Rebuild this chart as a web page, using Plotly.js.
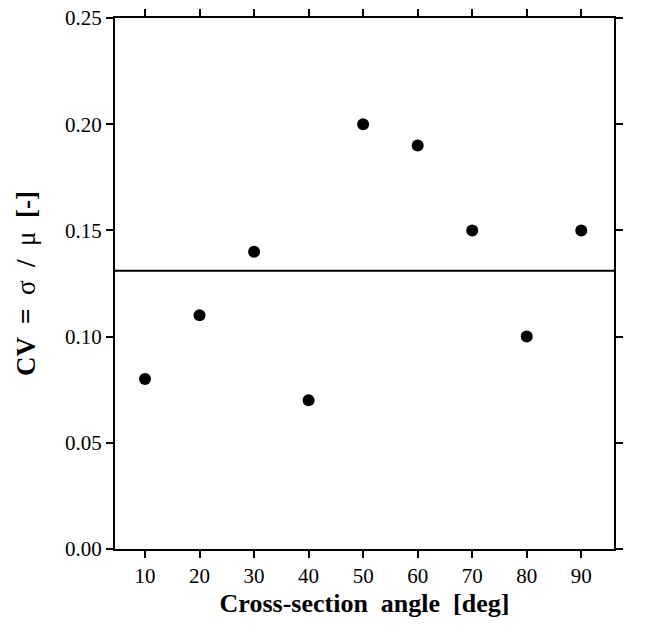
<!DOCTYPE html>
<html><head><meta charset="utf-8">
<script src="https://cdn.plot.ly/plotly-3.0.1.min.js"></script>
<style>body{margin:0;background:#fff}</style>
</head><body>
<div id="chart" style="width:651px;height:628px"></div>
<script>
const angles = [10, 20, 30, 40, 50, 60, 70, 80, 90];
const cv = [0.08, 0.11, 0.14, 0.07, 0.20, 0.19, 0.15, 0.10, 0.15];
const meanX = [4.5, 96];
const meanY = [0.131, 0.131];
const yTicks = [0, 0.05, 0.10, 0.15, 0.20, 0.25];
const yTickText = ['0.00', '0.05', '0.10', '0.15', '0.20', '0.25'];

const fam = 'Liberation Serif, Times New Roman, serif';
const f = s => ({family: fam, size: s, color: '#000'});
Plotly.newPlot('chart', [
  {x: meanX, y: meanY, mode: 'lines', line: {color: '#000', width: 2}, hoverinfo: 'skip'},
  {x: angles, y: cv, mode: 'markers', marker: {color: '#000', size: 12}}
], {
  width: 651, height: 628,
  margin: {l: 115, r: 37, t: 18, b: 79},
  showlegend: false,
  paper_bgcolor: '#fff', plot_bgcolor: '#fff',
  font: f(21),
  xaxis: {
    range: [4.5, 96], tickvals: angles, ticktext: angles.map(String),
    showgrid: false, zeroline: false, showline: true, linecolor: '#000', linewidth: 2,
    mirror: 'ticks', ticks: 'outside', ticklen: 7, tickwidth: 2, tickcolor: '#000',
    tickfont: f(21),
    title: {text: '<b>Cross-section  angle  [deg]</b>', font: f(26), standoff: 7}
  },
  yaxis: {
    range: [0, 0.25], tickvals: yTicks, ticktext: yTickText,
    showgrid: false, zeroline: false, showline: true, linecolor: '#000', linewidth: 2,
    mirror: 'ticks', ticks: 'outside', ticklen: 7, tickwidth: 2, tickcolor: '#000',
    tickfont: f(21),
    title: {text: '<b>CV  =  </b>σ<b>  /  </b>μ<b>  [-]</b>', font: f(27), standoff: 22}
  }
}, {staticPlot: true});
</script>
</body></html>
